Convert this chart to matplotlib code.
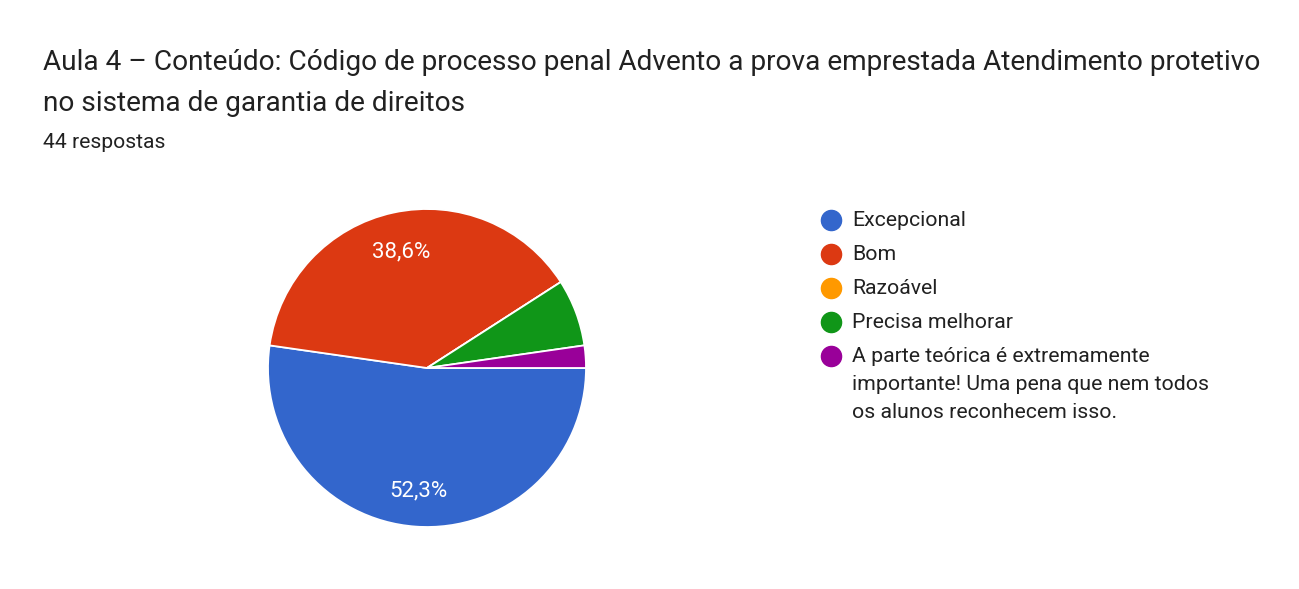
import matplotlib.pyplot as plt
from matplotlib.lines import Line2D

plt.rcParams['font.family'] = ['Roboto', 'DejaVu Sans']

title_lines = ["Aula 4 – Conteúdo: Código de processo penal Advento a prova emprestada Atendimento protetivo",
               "no sistema de garantia de direitos"]
subtitle = "44 respostas"
labels = ["Excepcional", "Bom", "Razoável", "Precisa melhorar",
          "A parte teórica é extremamente\nimportante! Uma pena que nem todos\nos alunos reconhecem isso."]
counts = [23, 17, 0, 3, 1]
colors = ["#3366cc", "#dc3912", "#ff9900", "#109618", "#990099"]

W, H = 1299, 589
fig = plt.figure(figsize=(W / 100, H / 100), dpi=100)
txt = "#212121"


def fy(y):
    return 1 - y / H


# title: baseline positions in pixels from top
for i, line in enumerate(title_lines):
    fig.text(43 / W, fy(70 + 41 * i), line, fontsize=20.15, color=txt,
             va="baseline", ha="left")
fig.text(43 / W, fy(148), subtitle, fontsize=15.2, color=txt,
         va="baseline", ha="left")

# pie
cx, cy, r = 427, 368, 159
ax = fig.add_axes([(cx - r) / W, (H - cy - r) / H, 2 * r / W, 2 * r / H])


def pct(p):
    return f"{p:.1f}%".replace(".", ",") if p >= 10 else ""


wedges, texts, autotexts = ax.pie(
    counts, colors=colors, startangle=0, counterclock=False,
    autopct=pct, pctdistance=0.76,
    wedgeprops=dict(edgecolor="white", linewidth=1.3),
    textprops=dict(color="white", fontsize=16))
for t in autotexts:
    t.set_va("center_baseline")
ax.set_xlim(-1, 1)
ax.set_ylim(-1, 1)
ax.set_aspect("equal")
ax.axis("off")

# legend
lx, ly0, step, line_h = 831, 220, 34, 28
fs = 15.3
y = ly0
for lab, col in zip(labels, colors):
    fig.add_artist(Line2D([lx / W], [fy(y)], marker="o", markersize=14.5,
                          color=col, linestyle="none"))
    for j, part in enumerate(lab.split("\n")):
        fig.text(852 / W, fy(y + 6.2 + line_h * j), part, fontsize=fs,
                 color=txt, va="baseline", ha="left")
    y += step

fig.savefig("out.png", dpi=100)
